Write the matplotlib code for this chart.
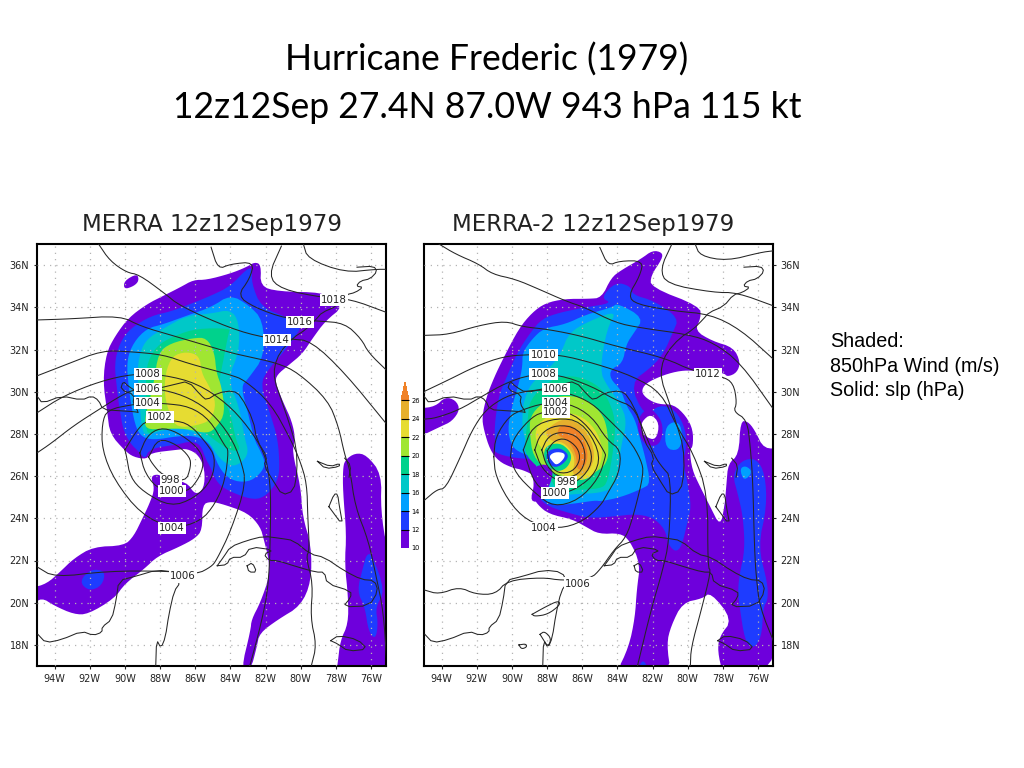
import matplotlib
matplotlib.use("Agg")
import matplotlib.pyplot as plt
from matplotlib.cm import ScalarMappable
from matplotlib.colors import BoundaryNorm, ListedColormap

levels = [10, 12, 14, 16, 18, 20, 22, 24, 26]
level_colors = ["#6e00dc", "#1e3cff", "#00a0ff", "#00c8c8", "#00d28c", "#a0e632", "#e6dc32", "#e6af2d", "#f08228"]
lon_ticks = [-94, -92, -90, -88, -86, -84, -82, -80, -78, -76]
lat_ticks = [18, 20, 22, 24, 26, 28, 30, 32, 34, 36]

# wind shading outlines, (lon, lat)
left_10_main = [(-82.6,36.15),(-82.25,36),(-82.3,35),(-81.3,34.75),(-78.7,34.7),(-78.6,34.4),(-77.55,34.05),(-78.6,33.35),(-79.35,32.5),(-79.9,31.8),(-80.7,31.25),(-81.35,30.8),(-81.45,30.45),(-81,29.5),(-80.5,28.6),(-80.3,27.75),(-80.5,27.2),(-80,25.5),(-79.9,24.1),(-79.4,22.7),(-79.4,21),(-80,19.85),(-81.3,19.2),(-82.35,18.55),(-82.5,17.9),(-82.85,16.8),(-83.4,16.8),(-82.85,18.7),(-82.8,19.2),(-82.3,20),(-81.8,21.2),(-81.8,22),(-82.1,23),(-82.3,23.6),(-83,24.25),(-84.35,24.65),(-85.1,24.8),(-85.6,24.65),(-85.6,23.45),(-86,23.05),(-86.9,22.65),(-88.15,22.2),(-88.9,21.6),(-90,20.9),(-90.6,20.2),(-92.1,19.45),(-92.9,19.45),(-94,19.85),(-94.75,20.25),(-95.3,19.85),(-95.3,20.7),(-94.45,20.9),(-93.7,21.45),(-92.9,22.1),(-91.8,22.65),(-90.05,22.7),(-89.5,23.15),(-89,24),(-88.6,24.7),(-88.3,25.4),(-88.55,26),(-88.05,26.1),(-87.75,25.8),(-86.5,25.75),(-86,25.1),(-85.5,25.4),(-85.45,26.3),(-85.8,27),(-86.45,27.3),(-87,27.25),(-88.55,27.1),(-88.75,26.8),(-89.5,26.9),(-90,27.2),(-90.85,28),(-91,29),(-91.25,30.5),(-91.05,31.85),(-90.55,32.65),(-89.8,33.5),(-88.75,34.15),(-87.8,34.55),(-86.85,34.95),(-86.1,35.3),(-85.35,35.3),(-84,35.6),(-83.1,35.9)]
left_10_north = [(-90.05,35.25),(-89.3,35.6),(-89.2,35.25),(-89.5,35),(-90.05,34.85)]
left_10_east = [(-77.5,26.75),(-76.9,27.1),(-76.25,27),(-75.4,26.1),(-75.45,24.4),(-75.1,22.5),(-74.6,22),(-74.6,16.6),(-78,16.6),(-77.9,17.1),(-77.75,18.2),(-77.3,19),(-77.3,20.25),(-77.5,21.85),(-77.4,23.25),(-77.6,25.3),(-77.6,26.3)]
left_12_main = [(-84,35),(-85.1,34.55),(-86.3,34.15),(-87.4,33.8),(-88.5,33.6),(-89.7,33),(-90.3,32.3),(-90.6,31.35),(-90.45,30.1),(-90.3,29.15),(-90.1,28.2),(-89.7,27.55),(-89.2,27.15),(-88.85,26.8),(-88.6,27.3),(-87,27.5),(-86.3,27.65),(-85.7,27.5),(-85.4,26.8),(-85.15,26.45),(-84.75,25.65),(-84,25.25),(-82.65,24.85),(-81.9,25.1),(-81.3,25.8),(-81.2,26.45),(-81.3,27.75),(-81.75,29),(-82.3,30.35),(-81.85,31.05),(-81.15,31.7),(-80.4,32.5),(-79.9,33.15),(-80.7,33.5),(-82.25,34),(-82.8,35.15),(-82.75,35.85),(-83.1,35.8)]
left_12_tail = [(-92.6,21),(-91.95,21.6),(-91.1,21.5),(-91.3,20.8),(-92.05,20.55)]
left_12_east = [(-76.25,22.3),(-75.95,22.3),(-75.2,20.55),(-75.75,19.8),(-75.6,19),(-75.75,18.25),(-76.15,18.65),(-76.35,19.8),(-76.8,20.55),(-76.45,21.7)]
left_14 = [(-84,34.6),(-85.1,34),(-86.5,33.6),(-87.8,33.2),(-88.75,33),(-89.5,32.35),(-89.9,31.5),(-89.8,30.25),(-89.5,28.65),(-89.15,27.9),(-88.4,27.7),(-87,27.9),(-85.9,27.9),(-85.1,27.5),(-84.7,26.45),(-84,25.8),(-83,25.7),(-82.3,26.1),(-82,26.6),(-82.3,27.2),(-82.65,27.75),(-83,29),(-83.4,30.25),(-83,30.6),(-82.05,31.7),(-82.15,33.4),(-82.95,34.1)]
left_16 = [(-84,33.9),(-85.1,33.7),(-86.5,33.6),(-87.8,33),(-88.75,32.5),(-89.15,31.85),(-89.3,30.9),(-89.15,29.3),(-89.05,28.35),(-88.85,27.9),(-87.8,28.2),(-86.5,28.25),(-85.7,27.9),(-85.1,27.5),(-84.7,26.9),(-84,26.45),(-83.4,26.6),(-82.95,27.1),(-83.2,27.85),(-83.5,29.3),(-84.15,30.6),(-83.5,31.9),(-83.5,33.3)]
left_18 = [(-84,33),(-85.9,33),(-87.2,32.65),(-88.25,32.15),(-88.8,31.2),(-88.8,30.1),(-88.85,27.9),(-88.15,28.2),(-86.5,28.3),(-85.55,28.15),(-84.9,27.7),(-84,27.2),(-83.4,27.2),(-83.7,27.75),(-84,29),(-84.7,30.25),(-84.4,31.5),(-84.1,32.8)]
left_20 = [(-86.1,32.55),(-85.35,32.55),(-84.9,31.85),(-84.8,30.9),(-84.5,30.25),(-84.3,29),(-84.75,28.35),(-85.3,28),(-86.5,28.25),(-87.7,28.25),(-88.85,28.2),(-88.85,28.85),(-88.35,30.4),(-88.1,31.85),(-87.4,32.3)]
left_22 = [(-86.5,31.9),(-85.75,31.7),(-85.65,30.9),(-85.2,30.25),(-84.8,29.45),(-85.1,28.65),(-85.9,28.4),(-87,28.3),(-87.4,28.8),(-87.75,29.8),(-87.7,30.9),(-87.3,31.7)]

# wind shading outlines, right panel
right_10_main = [(-82,36.7),(-81.45,36.6),(-81.45,36.3),(-82.1,35.5),(-82.1,34.95),(-79.3,34.05),(-79.25,33.5),(-79.6,32.9),(-78.6,32.4),(-77.4,32.1),(-77,31.4),(-77.2,30.9),(-77.75,30.7),(-77.95,30.9),(-79.6,31),(-80.4,31),(-81.35,30.8),(-82.4,30.4),(-82.65,30),(-82.3,29.65),(-81.65,29.4),(-80.8,29.4),(-80.1,28.85),(-79.7,28.2),(-79.7,27.4),(-79.9,27.25),(-79.75,26.3),(-79.3,25.5),(-78.75,24.6),(-78.15,23.6),(-77.9,24.6),(-77.8,25.6),(-77.7,26.6),(-77.1,27),(-77,28.6),(-76.6,28.6),(-76.2,28.2),(-75.65,27.25),(-74.6,27.4),(-74.6,16.6),(-78,16.6),(-78.3,17.7),(-78.2,18.4),(-77.45,19.2),(-78.7,20.5),(-79.15,20.2),(-80.3,20),(-80.95,18.9),(-81.2,18.05),(-80.95,16.6),(-84.1,16.6),(-83.35,17.9),(-83,19.3),(-82.9,20.6),(-82.7,21.85),(-83.3,22.95),(-83.85,23.3),(-85.05,23.25),(-85.8,23.6),(-86.55,23.95),(-87.9,24.2),(-88.55,24.65),(-88.85,25.1),(-88.5,25.6),(-88.65,26),(-89.4,26.3),(-90,26.4),(-90.75,26.7),(-91.25,27.25),(-91.6,28.2),(-91.7,28.8),(-91.45,29.75),(-91,30.7),(-90.45,31.65),(-89.6,33),(-88.85,33.75),(-88.1,34.2),(-87,34.4),(-85.65,34.4),(-84.9,34.45),(-84.35,35.4),(-83.8,35.75),(-82.65,36.3)]
right_10_west = [(-95.3,29.2),(-94.35,29.3),(-93.8,29.75),(-93.2,29.6),(-92.95,29.15),(-93.4,28.6),(-94.05,28.35),(-95.3,27.85)]
right_12_main = [(-84.3,34.2),(-85.8,34),(-87.3,33.75),(-88.3,33.45),(-88.95,32.8),(-89.7,31.85),(-90.35,30.6),(-90.75,29.8),(-91,28.35),(-90.95,27.4),(-91,27.1),(-89.85,26.85),(-88.5,26.8),(-88.1,26.3),(-87.9,25.65),(-88.55,25),(-87.9,24.55),(-86.75,24.25),(-85.6,24),(-84.05,24.1),(-83,24.2),(-82,24.05),(-81.3,23.5),(-81.1,22.75),(-80.7,22.4),(-80.35,22.65),(-80,23.85),(-79.8,24.55),(-80,25.65),(-80.3,26.75),(-80.1,27.2),(-80.1,28.2),(-80.7,29.15),(-81.6,29.4),(-82.45,28.8),(-83.3,30.4),(-82,31.2),(-81.35,31.85),(-80.85,32.8),(-80.5,33.5),(-81.9,34.3),(-83.15,34.6),(-83.25,35),(-84.1,35.2),(-84.95,34.45)]
right_12_east = [(-77.45,26.05),(-76.95,26.75),(-76.1,26.85),(-75.6,26.1),(-75.5,24.55),(-76,22.65),(-75.45,20.9),(-75.45,20.1),(-75.7,19.8),(-75.8,18.35),(-76.3,17.8),(-76.75,18.2),(-77.05,19.8),(-77.15,20.55),(-77.05,21.35),(-76.75,22.5),(-76.85,24.05),(-77.15,25.15)]
right_12_south = [(-82.85,16.8),(-82.55,17.35),(-82.2,16.8)]
right_14_main = [(-84,34.2),(-82.5,33.5),(-83.05,32.8),(-83.5,32.25),(-83.7,31.35),(-84.4,31.05),(-84.4,30.6),(-83.8,30.1),(-83.5,29.35),(-83,28.7),(-82.7,27.75),(-82.45,27),(-82.1,25.65),(-82.6,25.4),(-83.8,25),(-84.95,24.8),(-85.25,24.85),(-86.4,24.7),(-87.65,24.6),(-88.7,25.2),(-88.45,25.65),(-88.7,26.9),(-89.5,27.1),(-90,27.4),(-90.25,28.2),(-90,29.3),(-89.6,30.4),(-89.4,31.2),(-89.4,31.85),(-88.85,32.5),(-88.2,33),(-86.95,33.2),(-85.8,33.65),(-84.3,34)]
right_14_east = [(-77.05,26.35),(-76.7,26.5),(-76.3,26.2),(-76.8,25.75)]
right_14_gulf = [(-81.3,28.25),(-80.85,28.6),(-80.4,28.45),(-80.3,27.7),(-80.55,27.2),(-81.25,27.3)]
right_16 = [(-84,33.85),(-85.6,33.35),(-86.75,32.8),(-87.2,31.85),(-87.7,31.25),(-88.85,30.45),(-89.2,29.85),(-89.4,29.2),(-89.4,28.1),(-89.1,27.45),(-88.5,27),(-88.2,26.3),(-87.65,25.05),(-86.4,25.15),(-84.95,25.2),(-84.1,25.5),(-83.8,27.4),(-83.45,28.6),(-83.85,29.45),(-84.6,30.3),(-85,31),(-84.6,33)]
right_18 = [(-89,29.6),(-87.9,30.55),(-86.55,30.8),(-85.25,30.4),(-84.6,29.8),(-84.1,28.7),(-84.2,27.4),(-84.55,25.7),(-84.95,25.4),(-86.4,25.35),(-87.35,25.2),(-87.9,26),(-89.25,26.95),(-89.25,27.7),(-89.1,28.65)]
right_20 = [(-88.95,28.85),(-88.3,29.45),(-87.2,29.85),(-85.85,29.7),(-84.9,29),(-84.6,28.35),(-84.5,27.4),(-84.55,26.75),(-84.95,26.3),(-86.3,25.8),(-87.25,25.95),(-87.95,26.3),(-88.8,26.9),(-89,28.1)]
right_22 = [(-88.6,28.35),(-88.03,28.82),(-87.08,29.05),(-85.94,28.82),(-85.09,28.03),(-84.81,27.08),(-85.09,26.29),(-85.75,25.82),(-86.51,25.82),(-87.27,26.13),(-87.74,26.29),(-88.2,27.24),(-88.69,27.71)]
right_24 = [(-87.84,28.35),(-87.08,28.74),(-86.13,28.5),(-85.47,27.71),(-85.28,26.92),(-85.56,26.29),(-86.13,25.97),(-86.6,26.13),(-86.42,26.6),(-86.51,27.08),(-87.08,27.63),(-87.74,27.63),(-88.12,28.03)]
right_26 = [(-87.27,28.42),(-86.51,28.42),(-85.85,27.71),(-85.66,26.92),(-85.9,26.37),(-86.32,26.29),(-86.32,27),(-86.8,27.71),(-87.46,27.95)]
# weak winds around the eye and the island of calm to the east
right_eye_18 = [(-88.2,27.4),(-87.3,27.6),(-86.7,27.2),(-86.6,26.8),(-86.9,26.35),(-87.46,26.2),(-88.12,26.53)]
right_eye_12 = [(-88,27.2),(-87.3,27.35),(-86.85,27.1),(-86.8,26.85),(-87.2,26.5),(-87.65,26.4),(-88.05,26.75)]
right_sw_10 = [(-88.98,26.3),(-88.24,26.6),(-87.73,26.4),(-87.67,25.95),(-88.24,24.85),(-88.98,24.75),(-88.7,25.65)]
right_calm_10 = [(-82.2,29.3),(-81.5,28.7),(-81.4,28),(-81.7,27.4),(-82.5,27.5),(-82.85,28.2),(-82.8,28.8)]
right_calm = [(-82.1,28.95),(-81.6,28.5),(-81.8,27.7),(-82.4,27.85),(-82.65,28.25),(-82.6,28.6)]
right_eye = [(-87.9,26.95),(-87.55,27.15),(-87,27.1),(-87,26.85),(-87.45,26.5),(-87.7,26.7)]

# coast lines, shared by both panels
gulf_coast = [(-95.3,30),(-94.95,29.75),(-94.7,29.45),(-93.6,29.8),(-92.45,29.6),(-91.9,29.8),(-91.5,29.6),(-91.25,29.15),(-90.35,29.1),(-89.4,29.05),(-89.2,29),(-89.55,29.45),(-89.45,29.85),(-90.25,30.1),(-90.1,30.5),(-89.8,30.25),(-89.2,29.95),(-87.9,30.2),(-87.15,30.35),(-86.4,30.5),(-85.65,29.8),(-85.35,29.6),(-84.7,29.95),(-83.85,30.05),(-83.4,29.8),(-82.7,28.65),(-82.5,27.7),(-81.9,26.9),(-82.1,26.5),(-81.55,25.75),(-81.05,25.1),(-80.4,25.3),(-80.2,26.2),(-80.25,27.4),(-80.65,28.5),(-81.1,29.6),(-81.5,30.55),(-81.5,31.2),(-81.2,31.85),(-80.45,32.55),(-79.7,32.95),(-79.1,33.45),(-78.8,33.75),(-77.95,34.05),(-77.4,34.6),(-76.9,34.7),(-76.45,34.95),(-76.85,35),(-76.6,35.25),(-76.05,35.35),(-75.65,35.7),(-75.85,35.95),(-76.8,35.9)]
mexico_coast = [(-94.95,18.5),(-94.5,18.1),(-93.6,18.25),(-92.45,18.65),(-91.8,18.45),(-91.3,18.6),(-91.3,18.85),(-90.75,19.2),(-90.5,20.1),(-90.35,21.05),(-89.4,21.25),(-88.2,21.55),(-87.15,21.45),(-86.85,20.95),(-87.2,20.55),(-87.5,19.45),(-87.7,18.35),(-87.95,17.85),(-88.2,18.25),(-88.25,16.9)]
cuba = [(-84.75,21.75),(-84.4,22.15),(-84,22.65),(-83.05,22.95),(-82.1,23.15),(-81.15,23.05),(-80.4,22.95),(-79.45,22.3),(-78.65,22.15),(-77.5,21.5),(-76.55,21.1),(-75.8,21.05),(-75.6,20.55),(-76.1,19.85),(-77.6,19.8),(-77.15,20.25),(-77.15,20.55),(-78.5,20.9),(-78.65,21.45),(-79.15,21.45),(-80.2,21.7),(-81.35,22),(-81.8,22),(-82.1,22.3),(-81.55,22.5),(-82.85,22.65),(-83.25,22.15),(-84,22.15),(-84.2,21.8),(-84.75,21.75)]
isle_of_youth = [(-83.05,21.75),(-82.75,21.9),(-82.5,21.45),(-82.95,21.45),(-83.05,21.75)]
jamaica = [(-78.3,18.2),(-77.85,18.45),(-76.75,18.25),(-76.2,17.8),(-77.3,17.7),(-77.9,18.05),(-78.3,18.2)]
andros = [(-78.4,24.55),(-78.1,25.15),(-77.9,25.15),(-77.8,24.55),(-77.6,23.65),(-78.4,24.55)]
grand_bahama = [(-79.05,26.7),(-78.3,26.45),(-77.8,26.6),(-77.8,26.45),(-78.6,26.35),(-79.05,26.7)]
abaco = [(-77.5,26.85),(-77.15,26.5),(-77.25,25.95)]

# slp contours, left panel
left_slp = {
    "998": [(-88.65,26.9),(-88.1,27.8),(-87.05,27.5),(-86.3,26.9),(-86.25,26.45),(-86.55,25.7),(-87.9,26.05),(-88.45,26.6),(-88.65,26.9)],
    "1000": [(-89.15,27.1),(-88.75,27.9),(-88,28.3),(-87.05,28.1),(-85.9,27.4),(-85.5,26.75),(-85.7,26),(-86.45,25.2),(-88,25.3),(-88.85,26.1),(-89.15,27.1)],
    "1002": [(-90,27.25),(-89.9,26.9),(-89.7,25.95),(-88.95,25.25),(-87.4,24.55),(-86.05,24.95),(-85.05,25.8),(-84.85,26.9),(-85.35,27.55),(-86.3,28.45),(-87.25,28.65),(-88.75,28.65),(-89.3,28.2),(-90,27.25)],
    "1004": [(-88.75,29.45),(-89.5,29.4),(-91,29.15),(-91.3,28.5),(-91.3,27.25),(-90.6,25.8),(-89.1,24.2),(-87.3,23.5),(-85.7,23.85),(-84.85,24.7),(-84.3,25.8),(-84.1,27.25),(-84.3,27.4),(-85.15,28.65),(-86.3,29.3),(-87.8,29.45),(-88.75,29.45)],
    "1006": [(-95,27.1),(-94.2,27.55),(-92.9,28.4),(-91.4,29.2),(-90.25,29.8),(-89.5,30.1),(-88.75,30.1),(-87.8,30.1),(-86.3,29.7),(-85.05,29),(-84,27.9),(-83.4,26.75),(-83.1,25.65),(-83.95,23.45),(-84.8,22),(-85.1,21.7),(-85.9,21.35),(-87.5,21.5),(-91,21.5),(-94,21.2),(-95,21.7)],
    "1008": [(-95,29),(-93.5,29.8),(-91.4,30.5),(-89.5,30.85),(-87.8,30.8),(-85.9,30.4),(-84.2,29.45),(-83,28.35),(-82.05,27.1),(-81.75,25.8),(-81.7,24.4),(-81.8,20.9),(-82.25,19),(-82.9,17)],
    "1010": [(-95,30.75),(-93.3,31.3),(-91.3,31.95),(-89.7,31.9),(-87.8,31.75),(-86.45,31.35),(-84,30.8),(-83.2,30.55),(-81.7,29.45),(-80.55,27.7),(-80.05,26.75),(-79.65,25.65),(-79.6,24.05),(-79.5,22.5),(-79.7,22.15),(-79.3,20.9),(-79.45,19.3),(-79.1,18),(-79.4,17)],
    "1012": [(-95,33.4),(-93.1,33.45),(-90.25,33.6),(-89.1,33.1),(-87.25,32.65),(-84,31.85),(-83.2,31.7),(-81.3,31.35),(-80.15,30.9),(-78.45,29.6),(-77.85,28.35),(-77.5,27),(-77.2,26.3),(-76.9,24.55),(-76.15,22.95),(-75.7,21.2),(-75.3,19.6),(-75.1,17.1)],
    "1014": [(-91.5,37),(-90.85,36.2),(-89.9,35.65),(-89.2,35.55),(-87.8,34.7),(-86.85,34.05),(-84,33),(-82.05,32.55),(-80.55,32.5),(-79.4,32.4),(-77.5,30.9),(-75.1,28.45)],
    "1016": [(-85.1,36.85),(-84.7,35.8),(-84,36.05),(-82.65,36.15),(-82.9,35.35),(-83.6,34.55),(-82.65,34),(-80.8,33.45),(-79,33.35),(-77.5,33.25),(-76.55,32.5),(-76.15,31.85),(-75.1,31)],
    "1018": [(-81.1,36.9),(-81.85,35.5),(-81.1,34.85),(-78.7,34.45),(-77.2,34.4),(-75.1,33.75)],
    "1020": [(-79.85,37),(-79.6,36.3),(-77.5,35.65),(-75.75,35.8),(-75.05,35.8)],
}

# slp contours, right panel
right_slp = {
    "994": [(-87.99,27.2),(-87.6,27.68),(-86.95,27.8),(-86.25,27.35),(-86.1,26.76),(-86.55,26.2),(-87.36,26.12),(-87.88,26.55),(-87.99,27.2)],
    "996": [(-88.3,27.24),(-87.95,27.88),(-87.17,28.12),(-86.15,27.85),(-85.75,26.92),(-86.15,26.05),(-87.27,25.9),(-88.03,26.45),(-88.3,27.24)],
    "998": [(-88.7,27.24),(-88.38,28.02),(-87.46,28.44),(-86.25,28.28),(-85.45,27.24),(-85.52,26.38),(-86.42,25.62),(-87.46,25.78),(-88.3,26.35),(-88.7,27.24)],
    "1000": [(-89.35,27.24),(-88.85,28.35),(-87.46,28.76),(-86.05,28.6),(-85.02,27.24),(-85.15,26.2),(-86.32,25.38),(-87.55,25.08),(-88.7,25.55),(-89.35,27.24)],
    "1002": [(-90.08,26.92),(-89.98,27.71),(-89.04,28.67),(-88.28,29.06),(-86.76,29.06),(-85.63,28.35),(-84.68,27.08),(-84.68,26.92),(-85.06,25.9),(-86.2,24.86),(-87.62,24.54),(-88.66,25.17),(-89.8,26.13),(-90.08,26.92)],
    "1004": [(-91.03,26.92),(-90.93,27.87),(-90.17,28.83),(-89.42,29.14),(-88.19,29.46),(-86.76,29.46),(-85.44,28.83),(-84.59,27.71),(-83.8,27.24),(-83.9,26.13),(-84.57,25.17),(-84.95,24.6),(-86,23.83),(-87.33,23.5),(-88.85,23.75),(-89.98,24.54),(-90.93,25.97),(-91.03,26.92)],
    "1006": [(-94.97,24.86),(-94.25,25.37),(-93.77,25.41),(-92.92,26.92),(-92.26,28.19),(-91.5,29.14),(-90.36,29.78),(-89.23,30.02),(-88.28,30.1),(-86.76,29.94),(-85.44,29.46),(-84.49,28.67),(-83.3,27.7),(-82.65,26.76),(-82.5,26.13),(-83.05,24.25),(-83.5,23.1),(-84.2,22.5),(-84.95,21.6),(-85.53,21.13),(-87.15,21.05),(-88.28,21.2),(-90.27,21.05),(-90.93,20.4),(-92.07,20.4),(-93,20.75),(-94.15,20.4),(-94.97,20.6)],
    "1008": [(-94.97,28.7),(-94.34,28.75),(-93,29.14),(-91.7,29.78),(-90.36,30.41),(-88.94,30.81),(-87.33,30.81),(-85.44,30.25),(-84.1,29.6),(-83.1,29.3),(-82.53,28.2),(-81.87,26.92),(-81.43,26.4),(-80.95,25.97),(-81.05,22.95),(-81.43,21.52),(-82.1,19.62),(-82.86,17)],
    "1010": [(-94.97,30.02),(-93.58,30.57),(-92.07,31.2),(-90.46,31.68),(-88.94,31.76),(-87.33,31.76),(-85.25,31.33),(-83.1,30.73),(-81.48,29.94),(-80.63,28.35),(-79.68,27.08),(-78.86,25.17),(-78.86,21.68),(-78.67,21.52),(-79.24,19.62),(-79.81,17.87),(-79.85,17)],
    "1012": [(-94.97,32.67),(-93.58,32.71),(-91.88,33.14),(-90.36,33.35),(-89.42,33.08),(-87.9,32.95),(-86,32.63),(-84.11,32.16),(-81.3,31.6),(-79.68,30.97),(-78.06,30.73),(-77.4,30.41),(-77.2,29.46),(-77.4,29.06),(-76.63,28.67),(-76.44,27.4),(-76.3,25.81),(-76.2,22.48),(-76.1,21.2),(-75.9,19.78),(-75.05,18.03)],
    "1014": [(-94.15,37),(-93.2,36.52),(-91.88,36.05),(-91.12,35.57),(-89.8,35.33),(-88.47,34.86),(-86.95,34.3),(-85.82,33.98),(-84.11,33.27),(-82.72,33.03),(-79.96,32.71),(-78.53,32.32),(-77,31.37),(-75.1,29.14)],
    "1016": [(-85,36.84),(-84.53,35.97),(-83.87,36.2),(-82.53,36.2),(-82.72,35.49),(-83.39,34.54),(-82.91,34.14),(-80.82,33.83),(-78.72,33.67),(-77,32.95),(-75.1,31.52)],
    "1018": [(-80.9,37),(-81.57,35.81),(-81.19,35.1),(-78.53,34.7),(-77.2,34.7),(-75.1,34.06)],
    "1020": [(-79.58,37),(-79.3,36.44),(-77.77,36.2),(-75.87,36.6),(-75.1,36.68)],
    "yucatan_a": [(-88.85,19.45),(-88.1,19.8),(-87.35,20.1),(-87.25,19.9),(-87.95,19.45),(-88.7,19.35),(-88.85,19.45)],
    "yucatan_b": [(-89.6,18),(-89.2,18.05),(-89.15,17.9),(-89.45,17.8),(-89.6,18)],
    "yucatan_c": [(-88.4,18.5),(-88.15,18.65),(-87.75,18.3),(-87.95,17.9),(-88.25,18.3),(-88.4,18.5)],
}

left_labels = [("1018",-78.1,34.35),("1016",-80.05,33.3),("1014",-81.35,32.45),("1008",-88.7,30.85),("1006",-88.7,30.13),("1004",-88.7,29.46),("1002",-88,28.8),("998",-87.4,25.8),("1000",-87.33,25.3),("1004",-87.33,23.55),("1006",-86.7,21.25)]
right_labels = [("1010",-88.2,31.75),("1008",-88.2,30.85),("1006",-87.5,30.13),("1004",-87.5,29.46),("1002",-87.5,29.04),("1012",-78.85,30.85),("998",-86.93,25.72),("1000",-87.55,25.2),("1004",-88.2,23.55),("1006",-86.25,20.9)]

left_shades = [(10,left_10_main),(10,left_10_north),(10,left_10_east),(12,left_12_main),(12,left_12_tail),(12,left_12_east),(14,left_14),(16,left_16),(18,left_18),(20,left_20),(22,left_22)]
right_shades = [(10,right_10_main),(10,right_10_west),(12,right_12_main),(12,right_12_east),(12,right_12_south),(14,right_14_main),(14,right_14_east),(14,right_14_gulf),(16,right_16),(18,right_18),(20,right_20),(22,right_22),(24,right_24),(26,right_26),(10,right_sw_10),(18,right_eye_18),(12,right_eye_12),(10,right_calm_10)]
coasts = [gulf_coast, mexico_coast, cuba, isle_of_youth, jamaica, andros, grand_bahama, abaco]


def soften(points, closed=False, passes=2):
    # corner cutting so the hand-read outlines don't look like polygons
    for _ in range(passes):
        pts = list(points) + ([points[0]] if closed else [])
        out = [pts[0]] if not closed else []
        for (x0, y0), (x1, y1) in zip(pts[:-1], pts[1:]):
            out.append((0.75 * x0 + 0.25 * x1, 0.75 * y0 + 0.25 * y1))
            out.append((0.25 * x0 + 0.75 * x1, 0.25 * y0 + 0.75 * y1))
        if not closed:
            out.append(pts[-1])
        points = out
    return points


def draw_panel(ax, shades, slp, labels):
    color_of = dict(zip(levels, level_colors))
    for level, outline in shades:
        xs, ys = zip(*soften(outline, closed=True))
        ax.fill(xs, ys, color=color_of[level], lw=0, zorder=2)
    ax.grid(True, color="#b4b4b4", lw=0.9, ls=(0, (1, 4)), zorder=3)
    ax.set_axisbelow(False)
    for line in coasts:
        xs, ys = zip(*soften(line, passes=1))
        ax.plot(xs, ys, color="#262626", lw=0.75, zorder=4)
    for line in slp.values():
        xs, ys = zip(*soften(line))
        ax.plot(xs, ys, color="#262626", lw=0.75, zorder=4)
    for text, lon, lat in labels:
        ax.text(lon, lat, text, fontsize=7.4, ha="center", va="center", color="#222222", zorder=6,
                bbox=dict(facecolor="white", edgecolor="none", pad=0.9))
    ax.set_xlim(-95, -75.15)
    ax.set_ylim(17, 37)
    ax.set_xticks(lon_ticks)
    ax.set_xticklabels([f"{-v}W" for v in lon_ticks])
    ax.set_yticks(lat_ticks)
    ax.set_yticklabels([f"{v}N" for v in lat_ticks])
    ax.tick_params(length=2.5, width=0.8, labelsize=7, colors="#222222", pad=3)
    for spine in ax.spines.values():
        spine.set_linewidth(1.5)


fig = plt.figure(figsize=(10.24, 7.68), dpi=100)
W, H = 1024.0, 768.0

ax_left = fig.add_axes([37 / W, 1 - 666 / H, 349 / W, 422 / H])
draw_panel(ax_left, left_shades, left_slp, left_labels)

ax_right = fig.add_axes([424 / W, 1 - 666 / H, 349 / W, 422 / H])
draw_panel(ax_right, right_shades, right_slp, right_labels)
xs, ys = zip(*soften(right_calm, closed=True))
ax_right.fill(xs, ys, color="white", lw=0, zorder=2)
xs, ys = zip(*soften(right_eye, closed=True))
ax_right.fill(xs, ys, color="white", lw=0, zorder=2)
ax_right.yaxis.tick_right()

# colour bar between the panels
cax = fig.add_axes([401 / W, 1 - 548 / H, 8 / W, 166 / H])
norm = BoundaryNorm(levels, len(levels), extend="max")
cmap = ListedColormap(level_colors)
cbar = fig.colorbar(ScalarMappable(norm=norm, cmap=cmap), cax=cax, extend="max",
                    extendfrac=0.122, drawedges=True, ticks=levels)
cbar.outline.set_visible(False)
cbar.dividers.set_color("black")
cbar.dividers.set_linewidth(0.8)
cbar.ax.tick_params(length=0, labelsize=4.8, pad=1.5)

fig.text(82 / W, 1 - 224 / H, "MERRA 12z12Sep1979", fontsize=16.5, va="center", color="#222222")
fig.text(452 / W, 1 - 224 / H, "MERRA-2 12z12Sep1979", fontsize=16.5, va="center", color="#222222")

fig.text(487 / W, 1 - 60 / H, "Hurricane Frederic (1979)", fontsize=25.6, family="Lato", ha="center", va="center")
fig.text(487 / W, 1 - 107 / H, "12z12Sep 27.4N 87.0W 943 hPa 115 kt", fontsize=25.6, family="Lato", ha="center", va="center")

fig.text(830 / W, 1 - 341 / H, "Shaded:", fontsize=14.2, family="Liberation Sans", va="center")
fig.text(830 / W, 1 - 366 / H, "850hPa Wind (m/s)", fontsize=14.2, family="Liberation Sans", va="center")
fig.text(830 / W, 1 - 390 / H, "Solid: slp (hPa)", fontsize=14.2, family="Liberation Sans", va="center")

fig.savefig("out.png", dpi=100)
